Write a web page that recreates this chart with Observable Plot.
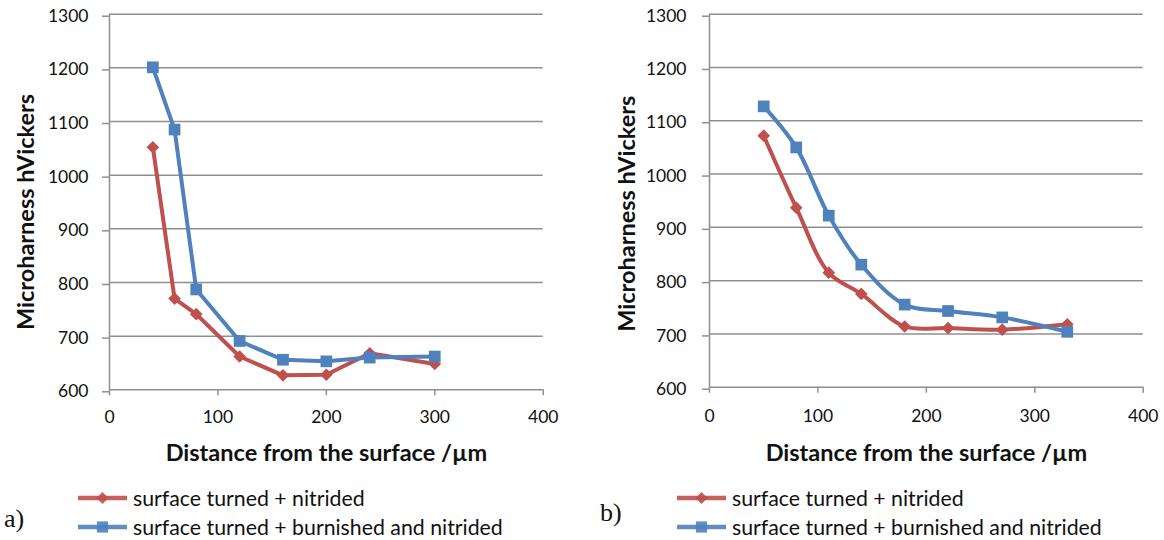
<!DOCTYPE html>
<html>
<head>
<meta charset="utf-8">
<script src="https://cdn.jsdelivr.net/npm/d3@7"></script>
<script src="https://cdn.jsdelivr.net/npm/@observablehq/plot@0.6"></script>
<style>
  body { margin: 0; background: #fff; }
  #wrap { position: relative; width: 1164px; height: 540px; overflow: hidden; font-family: Lato, "Open Sans", sans-serif; color: #111; }
  .panel { position: absolute; top: 0; }
  .legend { position: absolute; font-size: 21.3px; }
  .legend .row { display: flex; align-items: center; height: 29px; white-space: nowrap; }
  .legend svg { margin-right: 6px; flex: none; }
  .tag { position: absolute; font-family: "Liberation Serif", "DejaVu Serif", serif; font-size: 26px; line-height: 1; }
</style>
</head>
<body>
<div id="wrap"></div>
<script>
// Series and labels
const seriesNames = ["surface turned + nitrided", "surface turned + burnished and nitrided"];
const seriesColors = ["#C0504D", "#4F81BD"];
const seriesSymbols = ["diamond2", "square"];

// Panel a) distance from the surface (µm) and microhardness (HV)
const distanceA = [40, 60, 80, 120, 160, 200, 240, 300];
const nitridedA = [1052, 770, 741, 662, 627, 628, 668, 648];
const burnishedA = [1201, 1085, 787, 691, 656, 653, 660, 662];

// Panel b)
const distanceB = [50, 80, 110, 140, 180, 220, 270, 330];
const nitridedB = [1072, 937, 815, 775, 714, 711, 708, 718];
const burnishedB = [1127, 1050, 922, 830, 755, 743, 731, 704];

const xTicks = [0, 100, 200, 300, 400];
const yTicks = [600, 700, 800, 900, 1000, 1100, 1200, 1300];
const xTitle = "Distance from the surface /\u00b5m";
const yTitle = "Microharness hVickers";
const panelTags = ["a)", "b)"];

const gridColor = "#8f8f8f";

function rows(distance, a, b) {
  return [
    ...distance.map((d, i) => ({distance: d, hardness: a[i], series: seriesNames[0]})),
    ...distance.map((d, i) => ({distance: d, hardness: b[i], series: seriesNames[1]}))
  ];
}

function panel({data, curve, marginLeft, marginRight, marginBottom, yTickPad, xTickPad, yTitleDx, yTitleDy, xTitleDy}) {
  const height = 470;
  return Plot.plot({
    width: 582,
    height,
    marginTop: 13.7,
    marginLeft,
    marginRight,
    marginBottom,
    style: {fontFamily: "Lato, 'Open Sans', sans-serif", color: "#111", background: "transparent"},
    x: {domain: [0, 400]},
    y: {domain: [600, 1300]},
    color: {domain: seriesNames, range: seriesColors},
    symbol: {domain: seriesNames, range: seriesSymbols},
    marks: [
      Plot.gridY(yTicks, {stroke: gridColor, strokeOpacity: 1, strokeWidth: 1.5}),
      Plot.ruleX([0], {stroke: gridColor, strokeWidth: 1.5}),
      Plot.axisY(yTicks, {tickSize: 7, tickPadding: yTickPad, stroke: gridColor, strokeWidth: 1.5, strokeOpacity: 1,
        fontSize: 17.5, fill: "#111", dy: 2, tickFormat: "d", label: null}),
      Plot.axisX(xTicks, {tickSize: 6, tickPadding: xTickPad, stroke: gridColor, strokeWidth: 1.5, strokeOpacity: 1,
        fontSize: 17.5, fill: "#111", tickFormat: "d", label: null}),
      Plot.line(data, {x: "distance", y: "hardness", z: "series", stroke: "series", strokeWidth: 4, curve}),
      Plot.dot(data.filter(d => d.series === seriesNames[0]), {x: "distance", y: "hardness", fill: "series", symbol: "series", r: 5.7, stroke: null}),
      Plot.dot(data.filter(d => d.series === seriesNames[1]), {x: "distance", y: "hardness", fill: "series", symbol: "series", r: 6.6, stroke: null}),
      Plot.text([xTitle], {frameAnchor: "bottom", lineAnchor: "middle", dy: xTitleDy, fontSize: 23.5, fontWeight: "bold", fill: "#111"}),
      Plot.text([yTitle], {frameAnchor: "left", lineAnchor: "middle", textAnchor: "middle", rotate: -90, dx: yTitleDx, dy: yTitleDy,
        fontSize: 23.5, fontWeight: "bold", fill: "#111"})
    ]
  });
}

function legend(left, top) {
  const box = document.createElement("div");
  box.className = "legend";
  box.style.left = left + "px";
  box.style.top = top + "px";
  seriesNames.forEach((name, i) => {
    const row = document.createElement("div");
    row.className = "row";
    const sw = d3.create("svg").attr("width", 49).attr("height", 16);
    sw.append("line").attr("x1", 0).attr("x2", 49).attr("y1", 8).attr("y2", 8)
      .attr("stroke", seriesColors[i]).attr("stroke-width", 4.5).attr("opacity", 0.9);
    const sym = i === 0 ? d3.symbolDiamond2 : d3.symbolSquare;
    sw.append("path").attr("transform", "translate(24.5,8)")
      .attr("d", d3.symbol(sym, i === 0 ? 95 : 125)()).attr("fill", seriesColors[i]).attr("opacity", 0.9);
    row.appendChild(sw.node());
    const label = document.createElement("span");
    label.textContent = name;
    row.appendChild(label);
    box.appendChild(row);
  });
  return box;
}

function tag(text, left, top) {
  const el = document.createElement("div");
  el.className = "tag";
  el.textContent = text;
  el.style.left = left + "px";
  el.style.top = top + "px";
  return el;
}

const wrap = document.getElementById("wrap");

const pa = panel({
  data: rows(distanceA, nitridedA, burnishedA), curve: "linear",
  marginLeft: 109, marginRight: 39.3, marginBottom: 470 - 389.3,
  yTickPad: 14, xTickPad: 15, yTitleDx: -83, yTitleDy: 10, xTitleDy: 64
});
pa.classList.add("panel");
pa.style.left = "0px";
wrap.appendChild(pa);

const pb = panel({
  data: rows(distanceB, nitridedB, burnishedB), curve: "catmull-rom",
  marginLeft: 127, marginRight: 21.3, marginBottom: 470 - 386.7,
  yTickPad: 16, xTickPad: 16, yTitleDx: -82, yTitleDy: 13, xTitleDy: 66
});
pb.classList.add("panel");
pb.style.left = "582px";
wrap.appendChild(pb);

wrap.appendChild(legend(78, 483));
wrap.appendChild(legend(677, 483));
wrap.appendChild(tag(panelTags[0], 4, 506));
wrap.appendChild(tag(panelTags[1], 600, 500));
</script>
</body>
</html>
